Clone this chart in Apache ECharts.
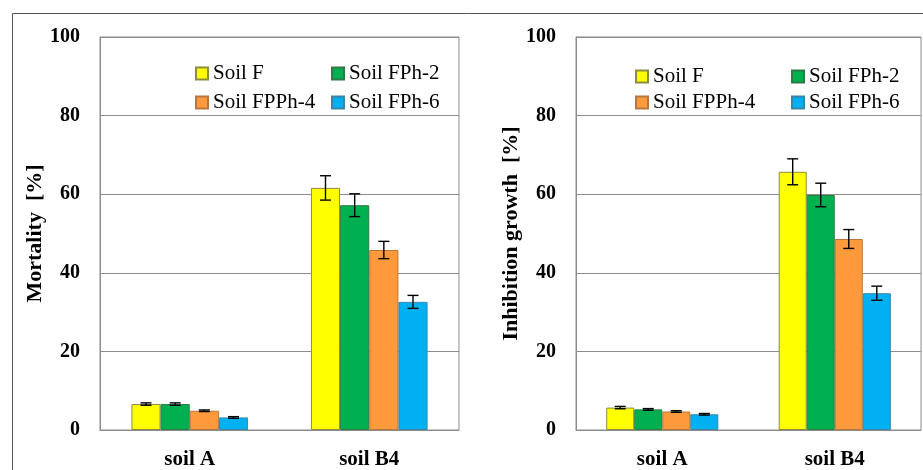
<!DOCTYPE html>
<html>
<head>
<meta charset="utf-8">
<script src="https://cdn.jsdelivr.net/npm/echarts@6/dist/echarts.min.js"></script>
<style>
html,body{margin:0;padding:0;background:#fff;}
#chart{width:923px;height:470px;}
</style>
</head>
<body>
<div id="chart"></div>
<script>
var categories = ['soil A', 'soil B4'];
var seriesNames = ['Soil F', 'Soil FPh-2', 'Soil FPPh-4', 'Soil FPh-6'];
var yTicks = [0, 20, 40, 60, 80, 100];

// Mortality [%]
var mortF = [6.6, 61.6];
var mortFPh2 = [6.6, 57.2];
var mortFPPh4 = [4.9, 45.8];
var mortFPh6 = [3.2, 32.6];
var mortErrF = [0.3, 3.1];
var mortErrFPh2 = [0.3, 2.9];
var mortErrFPPh4 = [0.2, 2.2];
var mortErrFPh6 = [0.2, 1.65];

// Inhibition growth [%]
var inhF = [5.7, 65.7];
var inhFPh2 = [5.25, 59.8];
var inhFPPh4 = [4.7, 48.6];
var inhFPh6 = [4.0, 34.8];
var inhErrF = [0.3, 3.3];
var inhErrFPh2 = [0.2, 3.0];
var inhErrFPPh4 = [0.2, 2.4];
var inhErrFPh6 = [0.2, 1.8];

var colors = ['#FFFF00', '#00B050', '#FF9A3C', '#00B0F0'];
var borders = ['#8C8C3C', '#2E7A45', '#B8763A', '#3A86A8'];
var FONT = 'Liberation Serif';
var CAT_GAP = 0.35;

var mortVals = [mortF, mortFPh2, mortFPPh4, mortFPh6];
var mortErrs = [mortErrF, mortErrFPh2, mortErrFPPh4, mortErrFPh6];
var inhVals = [inhF, inhFPh2, inhFPPh4, inhFPh6];
var inhErrs = [inhErrF, inhErrFPh2, inhErrFPPh4, inhErrFPh6];

function errRender(idx) {
  return function (params, api) {
    var ci = api.value(0);
    var lo = api.coord([ci, api.value(1)]);
    var hi = api.coord([ci, api.value(2)]);
    var band = api.size([1, 0])[0];
    var bw = band * (1 - CAT_GAP) / 4;
    var x = lo[0] + (idx - 1.5) * bw;
    var hw = 5.5;
    var st = { stroke: '#000', lineWidth: 1.4 };
    return {
      type: 'group',
      children: [
        { type: 'line', shape: { x1: x, y1: hi[1], x2: x, y2: lo[1] }, style: st },
        { type: 'line', shape: { x1: x - hw, y1: hi[1], x2: x + hw, y2: hi[1] }, style: st },
        { type: 'line', shape: { x1: x - hw, y1: lo[1], x2: x + hw, y2: lo[1] }, style: st }
      ]
    };
  };
}

var series = [];
function addPanel(vals, errs, axisIdx) {
  for (var i = 0; i < 4; i++) {
    series.push({
      name: seriesNames[i],
      type: 'bar',
      xAxisIndex: axisIdx,
      yAxisIndex: axisIdx,
      barGap: '0%',
      barCategoryGap: (CAT_GAP * 100) + '%',
      data: vals[i],
      itemStyle: { color: colors[i], borderColor: borders[i], borderWidth: 1 },
      emphasis: { disabled: true },
      z: 2
    });
  }
  for (var j = 0; j < 4; j++) {
    var d = [];
    for (var k = 0; k < categories.length; k++) {
      d.push([k, vals[j][k] - errs[j][k], vals[j][k] + errs[j][k]]);
    }
    series.push({
      type: 'custom',
      xAxisIndex: axisIdx,
      yAxisIndex: axisIdx,
      renderItem: errRender(j),
      data: d,
      z: 5,
      silent: true
    });
  }
}
addPanel(mortVals, mortErrs, 0);
addPanel(inhVals, inhErrs, 1);

function xAx(gi) {
  return {
    type: 'category',
    gridIndex: gi,
    data: categories,
    axisLine: { show: true, lineStyle: { color: '#8C8C8C', width: 1 } },
    axisTick: { show: false },
    axisLabel: { fontFamily: FONT, fontWeight: 'bold', fontSize: 21, color: '#000', margin: 19 }
  };
}
function yAx(gi, name) {
  return {
    type: 'value',
    gridIndex: gi,
    min: 0, max: 100, interval: 20,
    name: name,
    nameLocation: 'middle',
    nameGap: 50,
    nameTextStyle: { fontFamily: FONT, fontWeight: 'bold', fontSize: 22, color: '#000' },
    axisLine: { show: true, lineStyle: { color: '#8C8C8C', width: 1 } },
    axisTick: { show: false },
    splitLine: { show: true, lineStyle: { color: '#8C8C8C', width: 1 } },
    axisLabel: {
      fontFamily: FONT, fontWeight: 'bold', fontSize: 20, color: '#000', margin: 20,
      formatter: function (v) { return yTicks.indexOf(v) >= 0 ? String(v) : ''; }
    }
  };
}

function legend(left, top, names, gap) {
  return {
    left: left, top: top, orient: 'vertical',
    data: names,
    itemWidth: 12, itemHeight: 12, itemGap: gap,
    icon: 'rect',
    selectedMode: false,
    textStyle: { fontFamily: FONT, fontSize: 21, color: '#000', lineHeight: 20 }
  };
}

var option = {
  animation: false,
  backgroundColor: '#fff',
  textStyle: { fontFamily: FONT },
  graphic: [{
    type: 'rect', silent: true,
    shape: { x: 12.5, y: 13.5, width: 1000, height: 1000 },
    style: { fill: 'none', stroke: '#555', lineWidth: 1 }
  }],
  grid: [
    { left: 100, right: 464, top: 37, bottom: 39, show: true, borderColor: '#8C8C8C', borderWidth: 1, backgroundColor: 'transparent' },
    { left: 576, right: 2, top: 37, bottom: 39, show: true, borderColor: '#8C8C8C', borderWidth: 1, backgroundColor: 'transparent' }
  ],
  legend: [
    legend(190, 58, ['Soil F', 'Soil FPPh-4'], 8),
    legend(326, 58, ['Soil FPh-2', 'Soil FPh-6'], 8),
    legend(630, 61, ['Soil F', 'Soil FPPh-4'], 5),
    legend(786, 61, ['Soil FPh-2', 'Soil FPh-6'], 5)
  ],
  xAxis: [xAx(0), xAx(1)],
  yAxis: [yAx(0, 'Mortality  [%]'), yAx(1, 'Inhibition growth  [%]')],
  series: series
};

var chart = echarts.init(document.getElementById('chart'), null, { renderer: 'canvas' });
chart.setOption(option);
</script>
</body>
</html>
